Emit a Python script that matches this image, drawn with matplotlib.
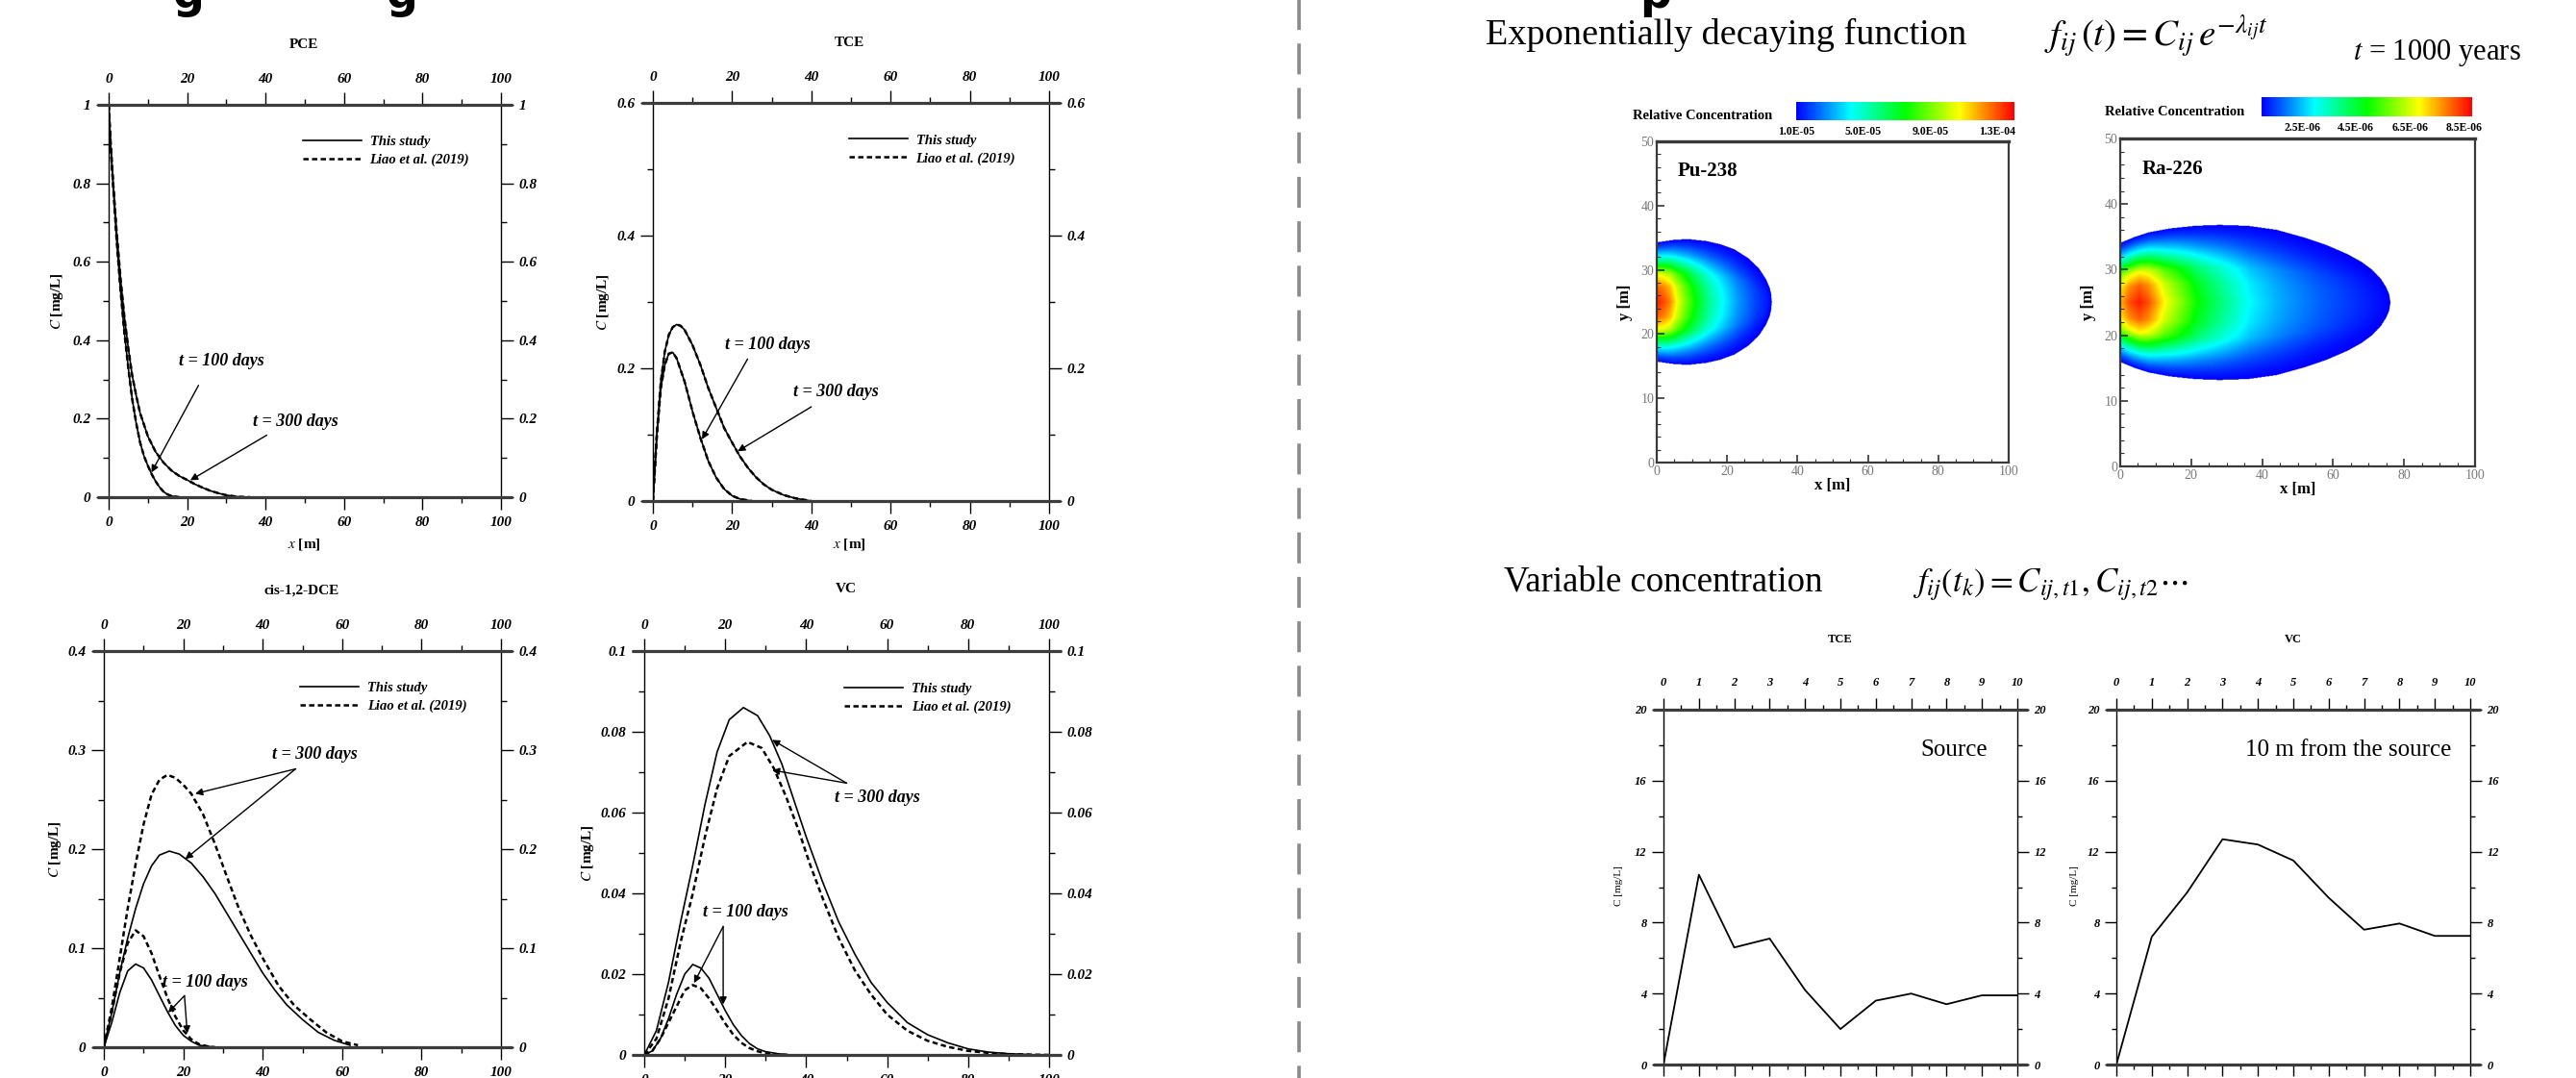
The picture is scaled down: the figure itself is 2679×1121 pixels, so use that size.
import numpy as np
import matplotlib
matplotlib.use("Agg")
import matplotlib.pyplot as plt
from matplotlib.colors import LinearSegmentedColormap, Normalize
from matplotlib.ticker import MultipleLocator, FuncFormatter
from matplotlib.lines import Line2D
import matplotlib.cm as cm

plt.rcParams['font.family'] = ['Liberation Serif', 'DejaVu Serif']
plt.rcParams['mathtext.fontset'] = 'stix'

# ======================= DATA =======================
# --- Left block: comparison with Liao et al. (2019), x [m] vs C [mg/L]
pce_x_100 = [0, 0.5, 1, 1.5, 2, 3, 4, 5, 6, 7, 8, 9, 10, 11, 12, 13, 14, 15, 16, 18]
pce_c_100 = [1, 0.9, 0.82, 0.74, 0.66, 0.53, 0.42, 0.33, 0.25, 0.19, 0.14, 0.105, 0.08, 0.058, 0.04, 0.025, 0.014, 0.007, 0.003, 0]
pce_x_300 = [0, 0.5, 1, 1.5, 2, 3, 4, 5, 6, 7, 8, 10, 12, 14, 16, 18, 20, 22, 24, 26, 28, 30, 33, 36]
pce_c_300 = [1, 0.9, 0.82, 0.75, 0.68, 0.56, 0.46, 0.38, 0.31, 0.26, 0.215, 0.155, 0.115, 0.088, 0.068, 0.054, 0.044, 0.033, 0.024, 0.016, 0.01, 0.005, 0.001, 0]

tce_x_100 = [0, 1, 2, 3, 4, 5, 6, 8, 10, 12, 14, 16, 18, 20, 22, 25]
tce_c_100 = [0, 0.1, 0.17, 0.205, 0.222, 0.224, 0.215, 0.18, 0.135, 0.095, 0.06, 0.035, 0.018, 0.008, 0.003, 0]
tce_x_300 = [0, 1, 2, 3, 4, 5, 6, 7, 8, 10, 12, 14, 16, 18, 20, 22, 24, 26, 28, 30, 33, 36, 40]
tce_c_300 = [0, 0.1, 0.18, 0.225, 0.25, 0.262, 0.266, 0.264, 0.258, 0.235, 0.205, 0.17, 0.14, 0.11, 0.088, 0.067, 0.05, 0.036, 0.025, 0.017, 0.009, 0.004, 0]

dce_x_300 = [0, 2, 4, 6, 8, 10, 12, 14, 16.5, 19, 22, 25, 28, 31, 34, 37, 40, 43, 46, 50, 54, 58, 62]
dce_this_300 = [0, 0.035, 0.075, 0.11, 0.14, 0.165, 0.183, 0.194, 0.198, 0.195, 0.186, 0.172, 0.155, 0.135, 0.115, 0.095, 0.075, 0.058, 0.043, 0.028, 0.015, 0.007, 0.002]
dce_xl_300 = [0, 2, 4, 6, 8, 10, 12, 14, 16, 18, 20, 22, 25, 28, 31, 34, 37, 40, 44, 48, 52, 56, 60, 64]
dce_liao_300 = [0, 0.04, 0.09, 0.14, 0.185, 0.225, 0.255, 0.27, 0.275, 0.272, 0.265, 0.256, 0.235, 0.205, 0.172, 0.14, 0.113, 0.09, 0.062, 0.042, 0.028, 0.015, 0.006, 0.002]
dce_x_100 = [0, 2, 4, 6, 8, 10, 12, 14, 16, 18, 20, 22, 24, 26, 28]
dce_this_100 = [0, 0.025, 0.055, 0.077, 0.084, 0.08, 0.068, 0.052, 0.036, 0.022, 0.012, 0.006, 0.002, 0.001, 0]
dce_liao_100 = [0, 0.035, 0.075, 0.105, 0.118, 0.112, 0.095, 0.072, 0.05, 0.031, 0.017, 0.008, 0.003, 0.001, 0]

vc_x_300 = [0, 3, 6, 9, 12, 15, 18, 21, 24.5, 28, 31, 34, 37, 40, 44, 48, 52, 56, 60, 65, 70, 75, 80, 85, 90, 95]
vc_this_300 = [0, 0.006, 0.018, 0.033, 0.047, 0.062, 0.075, 0.083, 0.086, 0.084, 0.079, 0.072, 0.063, 0.054, 0.043, 0.033, 0.025, 0.018, 0.013, 0.008, 0.005, 0.003, 0.0015, 0.0007, 0.0003, 0.0001]
vc_xl_300 = [0, 3, 6, 9, 12, 15, 18, 21, 25.5, 29, 32, 35, 38, 41, 44, 48, 52, 56, 60, 65, 70, 75, 80, 85, 90, 95, 100]
vc_liao_300 = [0, 0.004, 0.014, 0.028, 0.04, 0.054, 0.066, 0.074, 0.0775, 0.076, 0.071, 0.064, 0.056, 0.047, 0.039, 0.029, 0.021, 0.015, 0.01, 0.006, 0.0035, 0.002, 0.001, 0.0005, 0.0002, 0.0001, 0]
vc_x_100 = [0, 2, 4, 6, 8, 10, 12, 14, 16, 18, 20, 22, 24, 26, 28, 30, 33, 36]
vc_this_100 = [0, 0.001, 0.004, 0.009, 0.015, 0.02, 0.0224, 0.0215, 0.019, 0.015, 0.011, 0.0075, 0.0048, 0.0028, 0.0015, 0.0008, 0.0003, 0]
vc_liao_100 = [0, 0.001, 0.004, 0.008, 0.012, 0.016, 0.0173, 0.0165, 0.014, 0.011, 0.0078, 0.005, 0.003, 0.0017, 0.0009, 0.0004, 0.0001, 0]

series_labels = ["This study", "Liao et al. (2019)"]
panel_titles = ["PCE", "TCE", "cis-1,2-DCE", "VC"]

# --- Right top: plume maps at t = 1000 years (relative concentration)
source_y = 25.0
pu_cx = [0, 2, 3.8, 5.6, 8, 11, 15, 18.8, 23, 28, 31, 32.6]
pu_center = np.array([13.6, 13.1, 12.3, 10.8, 9.2, 7.5, 5.6, 4.3, 3.0, 1.9, 1.4, 1.0]) * 1e-5
pu_hx = [0, 5, 9, 14, 18, 22, 26, 29, 31, 32, 32.4, 32.6]
pu_halfwidth = [9.3, 9.7, 9.8, 9.5, 9.0, 8.2, 6.8, 5.2, 3.5, 2.2, 1.3, 0]
pu_ticks = [1.0e-5, 5.0e-5, 9.0e-5, 1.3e-4]
pu_range = [1.0e-5, 1.4e-4]

ra_cx = [0, 2.5, 5.4, 8, 10, 12.6, 16, 22, 28, 36.6, 44, 48, 56, 62, 68, 72, 76.2]
ra_center = np.array([7.40, 8.18, 8.57, 8.18, 7.63, 6.85, 6.15, 4.90, 4.04, 2.95, 2.40, 2.17, 1.78, 1.55, 1.31, 1.16, 1.0]) * 1e-6
ra_hx = [0, 4, 8, 14, 21, 28, 36, 44, 52, 58, 64, 68, 71, 73.5, 75, 75.8, 76.2]
ra_halfwidth = [9.1, 10.0, 10.7, 11.3, 11.7, 11.85, 11.7, 11.1, 9.9, 8.8, 7.4, 6.2, 5.0, 3.6, 2.3, 1.3, 0]
ra_ticks = [2.5e-6, 4.5e-6, 6.5e-6, 8.5e-6]
ra_range = [1.0e-6, 8.8e-6]

# lateral shape of the plume (fraction of centre excess vs. normalised distance)
prof_eta = [0, 0.25, 0.45, 0.6, 0.75, 0.9, 1.0]
prof_p = [1, 0.93, 0.77, 0.52, 0.28, 0.09, 0]

# --- Right bottom: variable source concentration
var_t = [0, 1, 2, 3, 4, 5, 6, 7, 8, 9, 10]
tce_var_c = [0, 10.7, 6.6, 7.1, 4.2, 2.0, 3.6, 4.0, 3.4, 3.9, 3.9]
vc_var_c = [0, 7.2, 9.7, 12.7, 12.4, 11.5, 9.4, 7.6, 7.95, 7.25, 7.25]

# ======================= FIGURE =======================
W, H = 2679, 1121
fig = plt.figure(figsize=(W / 100, H / 100), dpi=100)
fig.patch.set_facecolor('white')


def add_ax(x0, x1, y0, y1):
    return fig.add_axes([x0 / W, 1 - y1 / H, (x1 - x0) / W, (y1 - y0) / H])


def ftext(xp, yp, s, **kw):
    kw.setdefault('ha', 'center')
    kw.setdefault('va', 'center')
    return fig.text(xp / W, 1 - yp / H, s, **kw)


def gfmt(v, p):
    return f"{round(v, 6):g}"


def style_ticklabels(ax, **kw):
    for axis in (ax.xaxis, ax.yaxis):
        for t in axis.get_major_ticks():
            t.label1.set(**kw)
            t.label2.set(**kw)


def tec_axes(ax, xlim, ylim, xmaj, xmin, ymaj, ymin, maj_len=9.5, min_len=4.5,
             labelsize=11, xpad=5, ypad=4):
    ax.set_xlim(xlim)
    ax.set_ylim(ylim)
    ax.xaxis.set_major_locator(MultipleLocator(xmaj))
    ax.xaxis.set_minor_locator(MultipleLocator(xmin))
    ax.yaxis.set_major_locator(MultipleLocator(ymaj))
    ax.yaxis.set_minor_locator(MultipleLocator(ymin))
    ax.xaxis.set_major_formatter(FuncFormatter(gfmt))
    ax.yaxis.set_major_formatter(FuncFormatter(gfmt))
    for s in ('top', 'bottom'):
        ax.spines[s].set_visible(False)
    for s in ('left', 'right'):
        ax.spines[s].set_linewidth(1.0)
    for yv in ylim:
        ax.plot([-0.03, 1.03], [yv, yv], transform=ax.get_yaxis_transform(),
                clip_on=False, color='#3c3c3c', lw=2.3, solid_capstyle='butt', zorder=5)
    ax.tick_params(which='both', direction='out', top=True, bottom=True, left=True,
                   right=True, labeltop=True, labelbottom=True, labelleft=True,
                   labelright=True, width=1.0, color='black')
    ax.tick_params(which='major', length=maj_len)
    ax.tick_params(which='minor', length=min_len)
    ax.tick_params(axis='x', which='major', pad=xpad, labelsize=labelsize)
    ax.tick_params(axis='y', which='major', pad=ypad, labelsize=labelsize)
    style_ticklabels(ax, fontstyle='italic', fontweight='bold', family='Liberation Serif')


solid_kw = dict(color='black', lw=1.2, ls='-')
dash_kw = dict(color='black', lw=1.8, ls=(0, (2.2, 1.4)))
ann_font = dict(fontsize=13, fontstyle='italic', fontweight='bold')
arrow_kw = dict(arrowstyle='-|>', color='black', lw=1.0, mutation_scale=11,
                shrinkA=0, shrinkB=0)
leg_font = dict(family='Liberation Serif', style='italic', weight='bold', size=10.5)


def add_legend(ax):
    h = [Line2D([], [], **solid_kw), Line2D([], [], **dash_kw)]
    ax.legend(h, series_labels, loc='center left', bbox_to_anchor=(0.494, 0.883),
              frameon=False, borderpad=0, borderaxespad=0, handlelength=4.2,
              handletextpad=0.6, labelspacing=0.38, prop=leg_font)


def annotate(ax, label, lxy, start, targets):
    ax.text(lxy[0], lxy[1], label, ha='center', va='center', **ann_font)
    for tg in targets:
        ax.annotate('', xy=tg, xytext=start, arrowprops=arrow_kw)


# ---------- PCE ----------
ax = add_ax(113, 521, 109, 517)
tec_axes(ax, (0, 100), (0, 1), 20, 10, 0.2, 0.1)
ax.plot(pce_x_100, pce_c_100, **solid_kw)
ax.plot(pce_x_100, pce_c_100, **dash_kw)
ax.plot(pce_x_300, pce_c_300, **solid_kw)
ax.plot(pce_x_300, pce_c_300, **dash_kw)
add_legend(ax)
annotate(ax, 't = 100 days', (28.7, 0.348), (22.9, 0.285), [(10.9, 0.063)])
annotate(ax, 't = 300 days', (47.6, 0.192), (40.3, 0.158), [(20.8, 0.043)])
ftext(316, 46, panel_titles[0], fontsize=11, fontweight='bold')
ftext(316, 566, r'$x$ [m]', fontsize=11, fontweight='bold')
ftext(60, 313, r'$C$ [mg/L]', fontsize=11, fontweight='bold', rotation=90)

# ---------- TCE ----------
ax = add_ax(679, 1091, 107, 521)
tec_axes(ax, (0, 100), (0, 0.6), 20, 10, 0.2, 0.1)
ax.plot(tce_x_100, tce_c_100, **solid_kw)
ax.plot(tce_x_100, tce_c_100, **dash_kw)
ax.plot(tce_x_300, tce_c_300, **solid_kw)
ax.plot(tce_x_300, tce_c_300, **dash_kw)
add_legend(ax)
annotate(ax, 't = 100 days', (29, 0.235), (23.9, 0.214), [(12.4, 0.093)])
annotate(ax, 't = 300 days', (46.3, 0.164), (40, 0.142), [(21.4, 0.075)])
ftext(883, 44, panel_titles[1], fontsize=11, fontweight='bold')
ftext(883, 566, r'$x$ [m]', fontsize=11, fontweight='bold')
ftext(628, 314, r'$C$ [mg/L]', fontsize=11, fontweight='bold', rotation=90)

# ---------- cis-1,2-DCE ----------
ax = add_ax(108, 521, 677, 1089)
tec_axes(ax, (0, 100), (0, 0.4), 20, 10, 0.1, 0.05)
ax.plot(dce_x_300, dce_this_300, **solid_kw)
ax.plot(dce_xl_300, dce_liao_300, **dash_kw)
ax.plot(dce_x_100, dce_this_100, **solid_kw)
ax.plot(dce_x_100, dce_liao_100, **dash_kw)
add_legend(ax)
annotate(ax, 't = 300 days', (53, 0.296), (48.3, 0.281), [(23, 0.256), (20.5, 0.19)])
annotate(ax, 't = 100 days', (25.5, 0.066), (20.3, 0.052), [(16.2, 0.035), (21, 0.014)])
ftext(314, 614, panel_titles[2], fontsize=11, fontweight='bold')
ftext(314, 1135, r'$x$ [m]', fontsize=11, fontweight='bold')
ftext(58, 883, r'$C$ [mg/L]', fontsize=11, fontweight='bold', rotation=90)

# ---------- VC ----------
ax = add_ax(670, 1091, 677, 1097)
tec_axes(ax, (0, 100), (0, 0.1), 20, 10, 0.02, 0.01)
ax.plot(vc_x_300, vc_this_300, **solid_kw)
ax.plot(vc_xl_300, vc_liao_300, **dash_kw)
ax.plot(vc_x_100, vc_this_100, **solid_kw)
ax.plot(vc_x_100, vc_liao_100, **dash_kw)
add_legend(ax)
annotate(ax, 't = 300 days', (57.6, 0.0637), (50.0, 0.0673), [(31.6, 0.078), (31.6, 0.0705)])
annotate(ax, 't = 100 days', (25, 0.0354), (19.5, 0.0318), [(12.3, 0.0178), (19.5, 0.0125)])
ftext(880, 612, panel_titles[3], fontsize=11, fontweight='bold')
ftext(880, 1140, r'$x$ [m]', fontsize=11, fontweight='bold')
ftext(611, 887, r'$C$ [mg/L]', fontsize=11, fontweight='bold', rotation=90)

# ---------- divider ----------
fig.add_artist(Line2D([1351 / W, 1351 / W], [1 + 21 / H, 0], transform=fig.transFigure,
                      color='#8a8a8a', lw=2.6, ls=(0, (8.9, 3.9))))

# ---------- partially visible slide title ----------
for xp, ch in [(196, 'g'), (418, 'g'), (1722, 'p')]:
    fig.text(xp / W, 1 - 8 / H, ch, fontsize=33, fontweight='bold', family='DejaVu Sans',
             ha='center', va='baseline', color='black')

# ---------- headers (right) ----------
ftext(1545, 36, 'Exponentially decaying function', fontsize=27.5, ha='left')
ftext(2126, 38, r'$f_{ij}\,\left(t\right)=C_{ij}\,e^{-\lambda_{ij}t}$', fontsize=28, ha='left')
ftext(2447, 55, r'$t$ = 1000 years', fontsize=22, ha='left')
ftext(1564, 605, 'Variable concentration', fontsize=26.5, ha='left')
ftext(1989, 608, r'$f_{ij}\left(t_k\right)=C_{ij,t1},C_{ij,t2}\cdots$', fontsize=25, ha='left')

# ---------- plume maps ----------
cmap = LinearSegmentedColormap.from_list('tec', ['#0000ff', '#00ffff', '#00ff00', '#ffff00', '#ff0000'])
cmap.set_under('white')


def plume_field(cx, cv, hx, hw, vmin):
    xs = np.linspace(0, 100, 1201)
    ys = np.linspace(0, 50, 601)
    c = np.interp(xs, cx, cv, right=vmin)
    w = np.interp(xs, hx, hw, right=0.0)
    eta = np.abs(ys[:, None] - source_y) / np.maximum(w[None, :], 1e-9)
    p = np.interp(eta, prof_eta, prof_p)
    f = vmin + (c[None, :] - vmin) * p
    f[eta > 1] = vmin * 0.01
    f[:, w <= 0] = vmin * 0.01
    return f


def plume_panel(box, cbox, cx, cv, hx, hw, rng, ticks, name, lab_x, lab_y):
    ax = add_ax(*box)
    norm = Normalize(vmin=rng[0], vmax=rng[1])
    field = plume_field(cx, cv, hx, hw, rng[0])
    ax.imshow(field, origin='lower', extent=[0, 100, 0, 50], aspect='auto', cmap=cmap,
              norm=norm, interpolation='antialiased')
    ax.set_xlim(0, 100)
    ax.set_ylim(0, 50)
    ax.xaxis.set_major_locator(MultipleLocator(20))
    ax.xaxis.set_minor_locator(MultipleLocator(5))
    ax.yaxis.set_major_locator(MultipleLocator(10))
    ax.yaxis.set_minor_locator(MultipleLocator(2))
    ax.tick_params(which='both', direction='in', top=False, right=False, color='#333333')
    ax.tick_params(which='major', length=6, width=1.2, labelsize=10, labelcolor='#7a7a7a', pad=2)
    ax.tick_params(which='minor', length=3, width=0.8)
    for s in ax.spines.values():
        s.set_linewidth(1.6)
        s.set_color('#3a3a3a')
    ax.spines['top'].set_linewidth(2.4)
    ax.text(0.06, 0.906, name, transform=ax.transAxes, fontsize=15, fontweight='bold',
            ha='left', va='center')
    x0, x1, y0, y1 = box
    ftext((x0 + x1) / 2, y1 + 24, 'x [m]', fontsize=12, fontweight='bold')
    ftext(x0 - 33, (y0 + y1) / 2, 'y [m]', fontsize=12, fontweight='bold', rotation=90)
    cax = add_ax(*cbox)
    cb = fig.colorbar(cm.ScalarMappable(norm=norm, cmap=cmap), cax=cax, orientation='horizontal')
    cb.outline.set_visible(False)
    cb.set_ticks(ticks)
    cb.set_ticklabels([f"{t:.1E}" for t in ticks])
    cax.tick_params(length=0, pad=4, labelsize=8.5)
    for t in cax.get_xticklabels():
        t.set_fontweight('bold')
    ftext(lab_x, lab_y, 'Relative Concentration', fontsize=10.5, fontweight='bold')


plume_panel((1723, 2089, 147, 481), (1868, 2095, 106, 125), pu_cx, pu_center, pu_hx,
            pu_halfwidth, pu_range, pu_ticks, 'Pu-238', 1771, 120)
plume_panel((2205, 2574, 144, 485), (2352, 2571, 101, 121), ra_cx, ra_center, ra_hx,
            ra_halfwidth, ra_range, ra_ticks, 'Ra-226', 2262, 116)

# ---------- variable concentration panels ----------
for box, vals, title, note, note_x, ylab_x in [
        ((1730, 2098, 738, 1107), tce_var_c, 'TCE', 'Source', 2032, 1684),
        ((2201, 2569, 738, 1107), vc_var_c, 'VC', '10 m from the source', 2442, 2157)]:
    ax = add_ax(*box)
    tec_axes(ax, (0, 10), (0, 20), 1, 0.5, 4, 2, maj_len=8.5, min_len=3.5,
             labelsize=9, xpad=7, ypad=4)
    ax.plot(var_t, vals, color='black', lw=1.3)
    x0, x1, y0, y1 = box
    ftext((x0 + x1) / 2, 665, title, fontsize=9, fontweight='bold')
    ftext(note_x, 780, note, fontsize=18)
    ftext(ylab_x, 921, 'C [mg/L]', fontsize=8, rotation=90)

fig.savefig('out.png', dpi=100, facecolor='white')
